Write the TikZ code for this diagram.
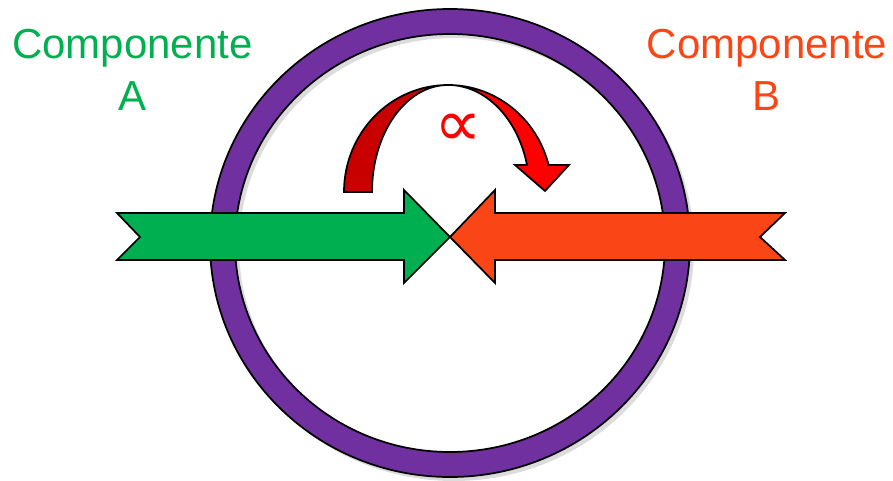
\documentclass[tikz,border=0pt]{standalone}
\usepackage{fontspec}
\setmainfont{Liberation Sans}
\newfontfamily\symfont{DejaVu Sans}
\usepackage{tikz}
\usepackage{xcolor}
\usetikzlibrary{positioning}
\definecolor{ringpurple}{HTML}{7030A0}
\definecolor{compgreen} {HTML}{00B050}
\definecolor{comporange}{HTML}{FA4616}
\definecolor{darkred}   {HTML}{C80000}
\definecolor{brightred} {HTML}{FF0000}
\definecolor{shadowgray}{HTML}{DCDCDC}
\tikzset{
  outline/.style  ={draw=black, line width=1.3pt, line join=miter},
  ringshape/.style={outline, fill=ringpurple, even odd rule},
  greenarr/.style ={outline, fill=compgreen},
  orangearr/.style={outline, fill=comporange},
  backband/.style ={outline, fill=darkred},
  frontband/.style={outline, fill=brightred},
  complabel/.style={inner sep=0pt, anchor=north, align=center,
                    font=\fontsize{31.5}{39}\selectfont},
}
\begin{document}
\begin{tikzpicture}[x=0.75pt, y=0.75pt]
  \useasboundingbox (0,0) rectangle (893,480);

  % ring with its shadow
  \fill[shadowgray, even odd rule] (454,233) ellipse [x radius=240, y radius=234]
                                   (454,233) ellipse [x radius=215, y radius=209];
  \path[ringshape] (450,237) ellipse [x radius=240, y radius=234]
                   (450,237) ellipse [x radius=215, y radius=209];

  % the two opposing arrows
  \coordinate (tip) at (450,243);
  \path[greenarr] (117,267) -- (140,243) -- (117,220) -- (404,220) -- (404,197)
                  -- (tip) -- (404,290) -- (404,267) -- cycle;
  \path[orangearr] (785,267) -- (760,243) -- (785,220) -- (495,220) -- (495,197)
                   -- (tip) -- (495,290) -- (495,267) -- cycle;

  % curved arrow
  \coordinate (arcc) at (448,288);
  \path[backband] (344,288) arc [start angle=180, end angle=90, x radius=104, y radius=107]
                  arc [start angle=90, end angle=180, x radius=76, y radius=107] -- cycle;
  \path[frontband] (448,395) arc [start angle=90, end angle=14.6, x radius=104, y radius=107]
                   -- (569,315) -- (545,289) -- (515,315) -- (527,315)
                   arc [start angle=14.6, end angle=90, x radius=81.6, y radius=107] -- cycle;
  \node[text=brightred, font=\symfont\fontsize{50}{50}\selectfont] (prop) at (458,350) {∝};

  % labels
  \node[complabel, text=compgreen]  (compA) at (132.5,451) {Componente\\A};
  \node[complabel, text=comporange] (compB) at (767,451)   {Componente\\B};
\end{tikzpicture}
\end{document}
